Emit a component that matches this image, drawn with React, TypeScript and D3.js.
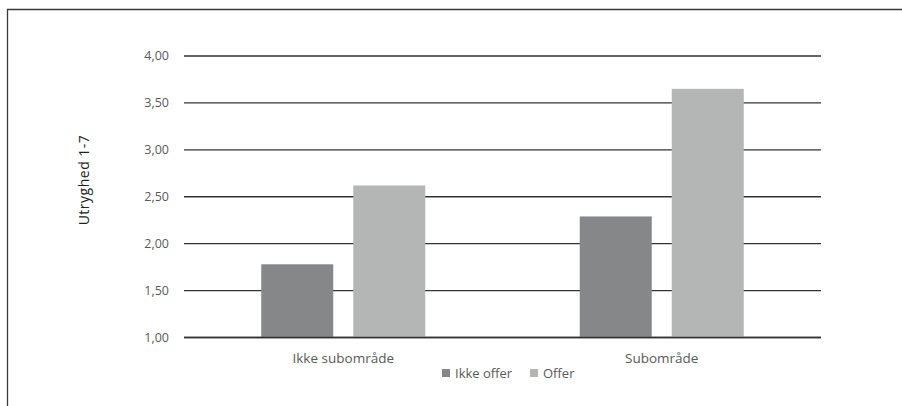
import * as d3 from "d3";
import React from "react";

const categories = ["Ikke subområde", "Subområde"];
const seriesNames = ["Ikke offer", "Offer"];
const ikkeOffer = [1.78, 2.29];
const offer = [2.62, 3.65];
const yTicks = [1, 1.5, 2, 2.5, 3, 3.5, 4];
const colors = ["#858789", "#b4b6b6"];

const W = 902;
const H = 406;
const margin = { top: 56, right: 81, bottom: 68.5, left: 184 };
const font = "'Open Sans', 'DejaVu Sans', sans-serif";

export default function App() {
  const innerW = W - margin.left - margin.right;
  const y = d3
    .scaleLinear()
    .domain([1, 4])
    .range([H - margin.bottom, margin.top]);
  const x0 = d3
    .scaleBand<string>()
    .domain(categories)
    .range([margin.left, margin.left + innerW]);
  const bw = x0.bandwidth();
  // two bars of 72px with a 20px gap, centered in each band
  const x1 = d3
    .scaleBand<string>()
    .domain(seriesNames)
    .range([bw / 2 - 82, bw / 2 + 82])
    .paddingInner(20 / 92);
  const values = [ikkeOffer, offer];
  const fmt = (v: number) => v.toFixed(2).replace(".", ",");

  return (
    <div style={{ position: "fixed", left: 0, top: 0, background: "#fff" }}>
      <svg width={W} height={H} style={{ display: "block" }}>
        <rect width={W} height={H} fill="#fff" />
        {/* chart frame, only top and left visible */}
        <path d={`M7.5,${H} L7.5,9.5 L${W},9.5`} fill="none" stroke="#3a3a3a" strokeWidth={1.3} />

        {yTicks.map((t) => (
          <g key={t}>
            <line
              x1={margin.left}
              x2={margin.left + innerW}
              y1={y(t)}
              y2={y(t)}
              stroke="#333"
              strokeWidth={1.3}
            />
            <text
              x={169}
              y={y(t)}
              dy="0.35em"
              textAnchor="end"
              fontFamily={font}
              fontSize={12.5}
              fill="#595959"
            >
              {fmt(t)}
            </text>
          </g>
        ))}

        {categories.map((c, i) => (
          <g key={c} transform={`translate(${x0(c)},0)`}>
            {seriesNames.map((s, j) => (
              <rect
                key={s}
                x={x1(s)}
                width={x1.bandwidth()}
                y={y(values[j][i])}
                height={y(1) - y(values[j][i])}
                fill={colors[j]}
              />
            ))}
            <text
              x={bw / 2}
              y={358}
              dy="0.35em"
              textAnchor="middle"
              fontFamily={font}
              fontSize={13.5}
              fill="#595959"
            >
              {c}
            </text>
          </g>
        ))}

        <line
          x1={margin.left}
          x2={margin.left + innerW}
          y1={y(1)}
          y2={y(1)}
          stroke="#333"
          strokeWidth={1.5}
        />

        <text
          transform={`translate(89,180) rotate(-90)`}
          textAnchor="middle"
          fontFamily={font}
          fontSize={14}
          letterSpacing={0.5}
          fill="#222"
        >
          Utryghed 1-7
        </text>

        {/* legend */}
        {seriesNames.map((s, j) => {
          const lx = j === 0 ? 442 : 530;
          return (
            <g key={s}>
              <rect x={lx} y={369} width={8} height={8} fill={colors[j]} />
              <text
                x={lx + 13}
                y={373}
                dy="0.35em"
                fontFamily={font}
                fontSize={13}
                fill="#595959"
              >
                {s}
              </text>
            </g>
          );
        })}
      </svg>
    </div>
  );
}
